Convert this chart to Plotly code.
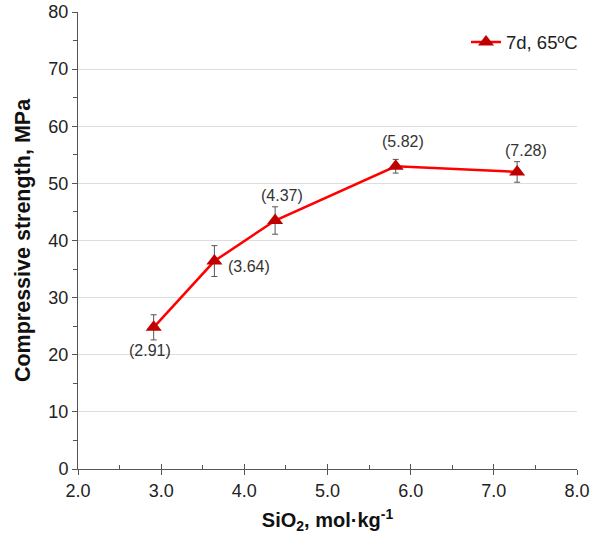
import plotly.graph_objects as go

sio2 = [2.91, 3.64, 4.37, 5.82, 7.28]
strength = [24.8, 36.4, 43.5, 53.0, 52.0]
err = [2.2, 2.7, 2.4, 1.2, 1.8]
labels = ["(2.91)", "(3.64)", "(4.37)", "(5.82)", "(7.28)"]
label_pos = ["below", "right", "above", "above", "above"]

x_ticks = [2.0, 3.0, 4.0, 5.0, 6.0, 7.0, 8.0]
y_ticks = [0, 10, 20, 30, 40, 50, 60, 70, 80]

FONT = "Liberation Sans, Arial, sans-serif"

fig = go.Figure()
fig.add_trace(go.Scatter(
    x=sio2, y=strength, mode="lines+markers", name="7d, 65ºC",
    line=dict(color="#ff0000", width=2.5),
    marker=dict(symbol="triangle-up", size=14, color="#c00000"),
    error_y=dict(type="data", array=err, color="#555555", thickness=1, width=3),
))

# label offsets in pixels (dx, dy downwards)
offsets = {"below": (-4, 23), "right": (35, 5), "above": (7, -25)}
for i, (x, y, t, p) in enumerate(zip(sio2, strength, labels, label_pos)):
    dx, dy = offsets[p]
    if i == 4:
        dx, dy = 9, -21
    fig.add_annotation(x=x, y=y, text=t, showarrow=False, xshift=dx, yshift=-dy,
                       font=dict(family=FONT, size=16, color="#333333"))

axis_common = dict(showline=True, linecolor="#555555", linewidth=1, automargin=False,
                   tickfont=dict(family=FONT, size=18, color="#222222"),
                   ticks="outside", ticklen=5, tickcolor="#555555", zeroline=False)

fig.update_layout(
    width=594, height=536,
    margin=dict(l=78, r=16, t=12, b=67),
    plot_bgcolor="white", paper_bgcolor="white",
    xaxis=dict(range=[2.0, 8.0], tickvals=x_ticks, ticktext=[f"{v:.1f}" for v in x_ticks],
               showgrid=False,
               minor=dict(tickvals=[2.5, 3.5, 4.5, 5.5, 6.5, 7.5], ticks="inside", ticklen=4,
                          tickcolor="#555555"),
               title=dict(text="<b>SiO<sub>2</sub>, mol·kg<sup>-1</sup></b>",
                          font=dict(family=FONT, size=20, color="#111111"), standoff=13),
               **axis_common),
    yaxis=dict(range=[0, 80], tickvals=y_ticks, showgrid=True, gridcolor="#dddddd", gridwidth=1,
               minor=dict(tickvals=[5, 15, 25, 35, 45, 55, 65, 75], ticks="outside", ticklen=4,
                          tickcolor="#555555"),
               title=dict(text="<b>Compressive strength, MPa</b>",
                          font=dict(family=FONT, size=21.5, color="#111111"), standoff=11),
               **axis_common),
    xaxis2=dict(range=[2.0, 8.0], overlaying="x", tickvals=x_ticks, showticklabels=False,
                ticks="inside", ticklen=5, tickcolor="#555555", showgrid=False, zeroline=False,
                showline=False, side="bottom", automargin=False),
    showlegend=True,
    legend=dict(x=1.01, y=0.975, xanchor="right", yanchor="top", bgcolor="rgba(0,0,0,0)",
                font=dict(family=FONT, size=18.5, color="#222222")),
)
# invisible trace to activate xaxis2 for crossing major tick marks
fig.add_trace(go.Scatter(x=[2.0], y=[0], xaxis="x2", mode="markers",
                         marker=dict(opacity=0), showlegend=False, hoverinfo="skip"))

fig.write_html("out.html")
